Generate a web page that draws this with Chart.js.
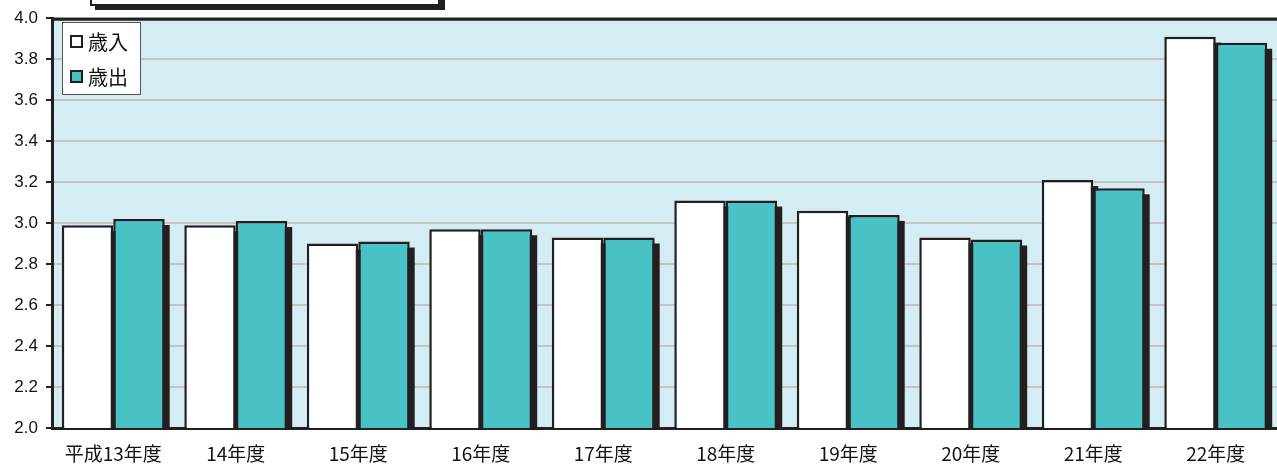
<!DOCTYPE html>
<html>
<head>
<meta charset="utf-8">
<script src="https://cdn.jsdelivr.net/npm/chart.js@4/dist/chart.umd.min.js"></script>
<style>
  html, body { margin: 0; padding: 0; background: #ffffff; }
  #wrap { width: 1277px; height: 464px; }
</style>
</head>
<body>
<div id="wrap"><canvas id="chart" width="1277" height="464"></canvas></div>
<script>
// years (平成)
var years = ['平成13年度', '14年度', '15年度', '16年度', '17年度', '18年度', '19年度', '20年度', '21年度', '22年度'];
// 歳入 / 歳出 values
var revenue = [2.99, 2.99, 2.90, 2.97, 2.93, 3.11, 3.06, 2.93, 3.21, 3.91];
var spending = [3.02, 3.01, 2.91, 2.97, 2.93, 3.11, 3.04, 2.92, 3.17, 3.88];
var yMin = 2.0, yMax = 4.0, yStep = 0.2;

var dark = '#231f20';

// plot background + dark frame on top
var framePlugin = {
    id: 'frame',
    beforeDraw: function(chart) {
        var a = chart.chartArea, ctx = chart.ctx;
        ctx.save();
        ctx.fillStyle = '#d4ecf3';
        ctx.fillRect(a.left, a.top, a.right - a.left, a.bottom - a.top);
        ctx.restore();
    },
    afterDraw: function(chart) {
        var a = chart.chartArea, ctx = chart.ctx;
        ctx.save();
        ctx.strokeStyle = dark;
        ctx.lineWidth = 3;
        ctx.beginPath();
        ctx.moveTo(a.left, a.top + 1);
        ctx.lineTo(a.right, a.top + 1);
        ctx.stroke();

        // title box cut off at the top
        ctx.fillStyle = dark;
        ctx.fillRect(95, 0, 350, 10);
        ctx.fillStyle = '#ffffff';
        ctx.fillRect(90, -5, 350, 10);
        ctx.lineWidth = 2;
        ctx.strokeRect(91, -5, 348, 10);

        // legend box
        ctx.fillStyle = '#ffffff';
        ctx.fillRect(62, 22, 78, 72);
        ctx.strokeStyle = '#555555';
        ctx.lineWidth = 1;
        ctx.strokeRect(62.5, 22.5, 78, 72);
        var items = chart.data.datasets;
        for (var i = 0; i < items.length; i++) {
            var y = 41 + i * 35;
            ctx.fillStyle = items[i].backgroundColor;
            ctx.fillRect(70, y - 6, 13, 13);
            ctx.strokeStyle = dark;
            ctx.lineWidth = 2;
            ctx.strokeRect(71, y - 5, 11, 11);
            ctx.fillStyle = '#111111';
            ctx.font = '20px "Noto Sans CJK JP"';
            ctx.textBaseline = 'middle';
            ctx.fillText(items[i].label, 88, y + 1);
        }
        ctx.restore();
    }
};

// dark drop shadow behind each bar
var shadowPlugin = {
    id: 'barShadow',
    beforeDatasetsDraw: function(chart) {
        var ctx = chart.ctx, a = chart.chartArea;
        ctx.save();
        ctx.fillStyle = dark;
        chart.data.datasets.forEach(function(ds, i) {
            chart.getDatasetMeta(i).data.forEach(function(bar) {
                var w = bar.width;
                var bottom = Math.min(bar.base, a.bottom);
                ctx.fillRect(bar.x - w / 2 + 5, bar.y + 6, w, bottom - bar.y - 6);
            });
        });
        ctx.restore();
    }
};

var ctx = document.getElementById('chart').getContext('2d');
var myChart = new Chart(ctx, {
    type: 'bar',
    data: {
        labels: years,
        datasets: [{
            label: '歳入',
            data: revenue,
            backgroundColor: '#ffffff',
            borderColor: dark,
            borderWidth: 2.5,
            borderSkipped: 'start'
        }, {
            label: '歳出',
            data: spending,
            backgroundColor: '#48c2c5',
            borderColor: dark,
            borderWidth: 2.5,
            borderSkipped: 'start'
        }]
    },
    options: {
        responsive: false,
        animation: false,
        layout: { padding: { top: 18, right: 0, left: 0, bottom: 0 } },
        datasets: { bar: { categoryPercentage: 0.84, barPercentage: 1.0 } },
        plugins: {
            legend: { display: false },
            tooltip: { enabled: false }
        },
        scales: {
            x: {
                grid: { display: false },
                border: { color: dark, width: 3 },
                ticks: {
                    color: '#111111',
                    font: { family: '"Noto Sans CJK JP"', size: 19 },
                    padding: 6,
                    maxRotation: 0,
                    autoSkip: false
                },
                afterFit: function(scale) { scale.height = 36; }
            },
            y: {
                min: yMin,
                max: yMax,
                grid: {
                    color: '#c4c4c4',
                    lineWidth: 2,
                    tickColor: dark,
                    tickLength: 6,
                    tickWidth: 2
                },
                border: { color: dark, width: 3 },
                ticks: {
                    stepSize: yStep,
                    color: '#111111',
                    font: { family: '"Liberation Sans"', size: 17 },
                    padding: 8,
                    callback: function(v) { return v.toFixed(1); }
                },
                afterFit: function(scale) { scale.width = 52; }
            }
        }
    },
    plugins: [framePlugin, shadowPlugin]
});
</script>
</body>
</html>
